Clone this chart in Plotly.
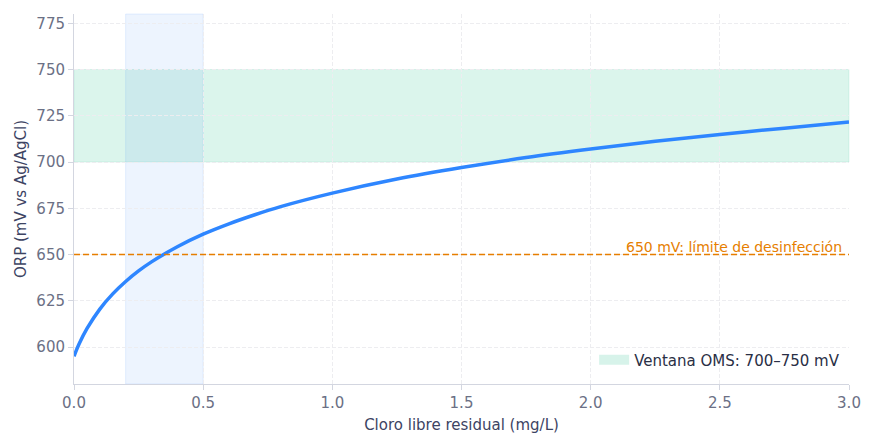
import plotly.graph_objects as go

# Curva ORP frente a cloro libre
cloro = [0, 0.02, 0.05, 0.1, 0.15, 0.2, 0.25, 0.3, 0.4, 0.5, 0.6, 0.7, 0.8,
         1.0, 1.25, 1.5, 1.75, 2.0, 2.25, 2.5, 2.75, 3.0]
orp = [595, 601.7, 609.9, 620.5, 628.7, 635.4, 641.1, 646.0, 654.2, 661.0,
       666.6, 671.5, 675.9, 683.2, 690.8, 697.0, 702.4, 707.0, 711.2, 714.9,
       718.3, 721.6]

ventana_oms = [700, 750]
rango_cloro = [0.2, 0.5]
limite_desinf = 650

font_family = "DejaVu Sans, sans-serif"
fig = go.Figure()

# Ventana OMS
fig.add_hrect(
    y0=ventana_oms[0], y1=ventana_oms[1],
    fillcolor='rgba(16,185,129,0.15)',
    line=dict(width=1, color='rgba(16,185,129,0.12)'),
    layer='below',
)
# entrada de leyenda para la ventana (sin datos visibles)
fig.add_trace(go.Scatter(
    x=[None], y=[None],
    mode='lines',
    line=dict(width=12, color='rgba(16,185,129,0.17)'),
    name='Ventana OMS: 700–750 mV',
    hoverinfo='skip',
))

fig.add_vrect(
    x0=rango_cloro[0], x1=rango_cloro[1],
    fillcolor='rgba(59,130,246,0.09)',
    line=dict(width=1, color='rgba(59,130,246,0.12)'),
    layer='below',
)

fig.add_trace(go.Scatter(
    x=cloro, y=orp,
    mode='lines',
    line=dict(color='#2E86FF', width=3.5, shape='spline'),
    showlegend=False,
    name='ORP',
))

fig.add_hline(
    y=limite_desinf,
    line=dict(color='#E67E00', width=1.3, dash='6px,3px'),
)
fig.add_annotation(
    x=2.98, y=limite_desinf, xref='x', yref='y',
    text='650 mV: límite de desinfección',
    showarrow=False, xanchor='right', yanchor='bottom',
    font=dict(color='#E67E00', size=14, family=font_family),
    yshift=-2,
)

axis_common = dict(
    showline=True, linecolor='#D3D6E0', linewidth=1,
    gridcolor='#EDEDF0', griddash='4px,2px', gridwidth=1,
    zeroline=False,
    ticks='outside', ticklen=5, tickcolor='#D3D6E0',
    tickfont=dict(size=15, color='#6B7085', family=font_family),
)

fig.update_layout(
    width=876, height=444,
    paper_bgcolor='white', plot_bgcolor='white',
    margin=dict(l=66, r=35, t=6, b=68),
    font=dict(family=font_family),
    xaxis=dict(
        range=[0, 3], dtick=0.5, tickformat='.1f',
        title=dict(text='Cloro libre residual (mg/L)', standoff=8,
                   font=dict(size=15, color='#3D4463', family=font_family)),
        **axis_common,
    ),
    yaxis=dict(
        range=[580, 780], dtick=25,
        title=dict(text='ORP (mV vs Ag/AgCl)', standoff=6,
                   font=dict(size=15, color='#3D4463', family=font_family)),
        **axis_common,
    ),
    legend=dict(
        x=0.995, y=0.02, xanchor='right', yanchor='bottom',
        bgcolor='rgba(255,255,255,0)',
        font=dict(size=15, color='#2A2F45', family=font_family),
    ),
    showlegend=True,
)

fig.write_html("out.html")
